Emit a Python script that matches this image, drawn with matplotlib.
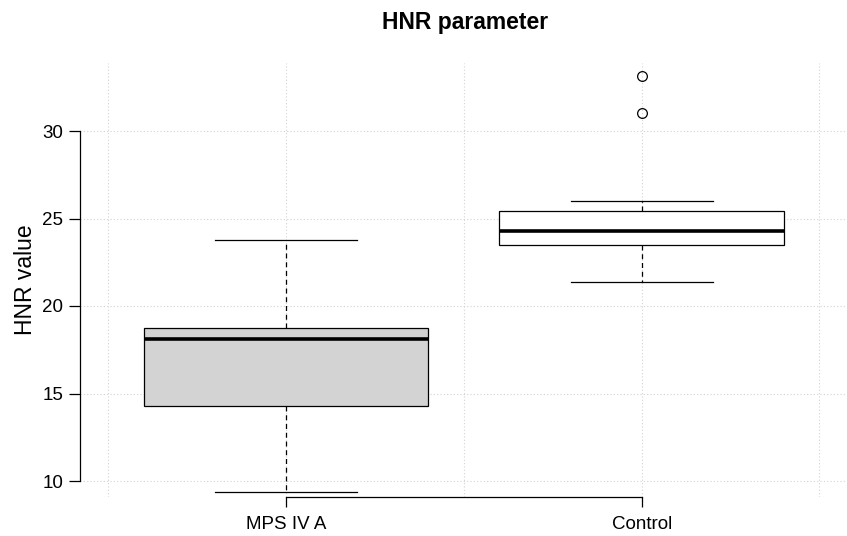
import matplotlib
matplotlib.use("Agg")
import matplotlib.pyplot as plt

plt.rcParams['font.family'] = ['Liberation Sans', 'DejaVu Sans']

# 박스플롯 통계값
groups = ["MPS IV A", "Control"]
q1 = [14.29, 23.49]
med = [18.11, 24.29]
q3 = [18.74, 25.43]
whislo = [9.37, 21.37]
whishi = [23.77, 26.0]
fliers = [[], [31.03, 33.14]]
box_colors = ["#d3d3d3", "white"]

stats = []
for i in range(len(groups)):
    stats.append({
        "label": groups[i], "q1": q1[i], "med": med[i], "q3": q3[i],
        "whislo": whislo[i], "whishi": whishi[i], "fliers": fliers[i],
    })

fig = plt.figure(figsize=(8.47, 5.36), dpi=100)
ax = fig.add_axes([80 / 847, 39 / 536, 767 / 847, 434 / 536])

# 격자 (R grid() 스타일)
for x in [0.5, 1, 1.5, 2, 2.5]:
    ax.axvline(x, color="#d3d3d3", linestyle=(0, (1, 2)), linewidth=0.8, zorder=0)
for y in [10, 15, 20, 25, 30]:
    ax.axhline(y, color="#d3d3d3", linestyle=(0, (1, 2)), linewidth=0.8, zorder=0)

bp = ax.bxp(stats, positions=[1, 2], widths=0.8, patch_artist=True,
            boxprops=dict(edgecolor="black", linewidth=0.9),
            medianprops=dict(color="black", linewidth=2.6),
            whiskerprops=dict(color="black", linestyle=(0, (4, 3)), linewidth=0.9),
            capprops=dict(color="black", linewidth=0.9),
            capwidths=0.4,
            flierprops=dict(marker="o", markerfacecolor="none", markeredgecolor="black",
                            markersize=7, markeredgewidth=0.9))
for patch, c in zip(bp["boxes"], box_colors):
    patch.set_facecolor(c)

ax.set_xlim(0.42, 0.42 + 767 / 355.5)
ax.set_ylim(10 - 16 / 17.5, 30 + 68 / 17.5)

for s in ["top", "right"]:
    ax.spines[s].set_visible(False)
ax.spines["left"].set_bounds(10, 30)
ax.spines["bottom"].set_bounds(1, 2)
ax.spines["left"].set_linewidth(0.9)
ax.spines["bottom"].set_linewidth(0.9)

ax.set_yticks([10, 15, 20, 25, 30])
ax.set_xticks([1, 2])
ax.set_xticklabels(groups)
ax.tick_params(axis="y", length=8, width=0.9, pad=4, labelsize=13.5)
ax.tick_params(axis="x", length=7, width=0.9, pad=7, labelsize=13.5)

ax.set_ylabel("HNR value", fontsize=16.5, labelpad=4)
fig.text(465 / 847, 1 - 22 / 536, "HNR parameter", ha="center", va="center",
         fontsize=16.5, fontweight="bold")

fig.savefig("out.png", dpi=100)
